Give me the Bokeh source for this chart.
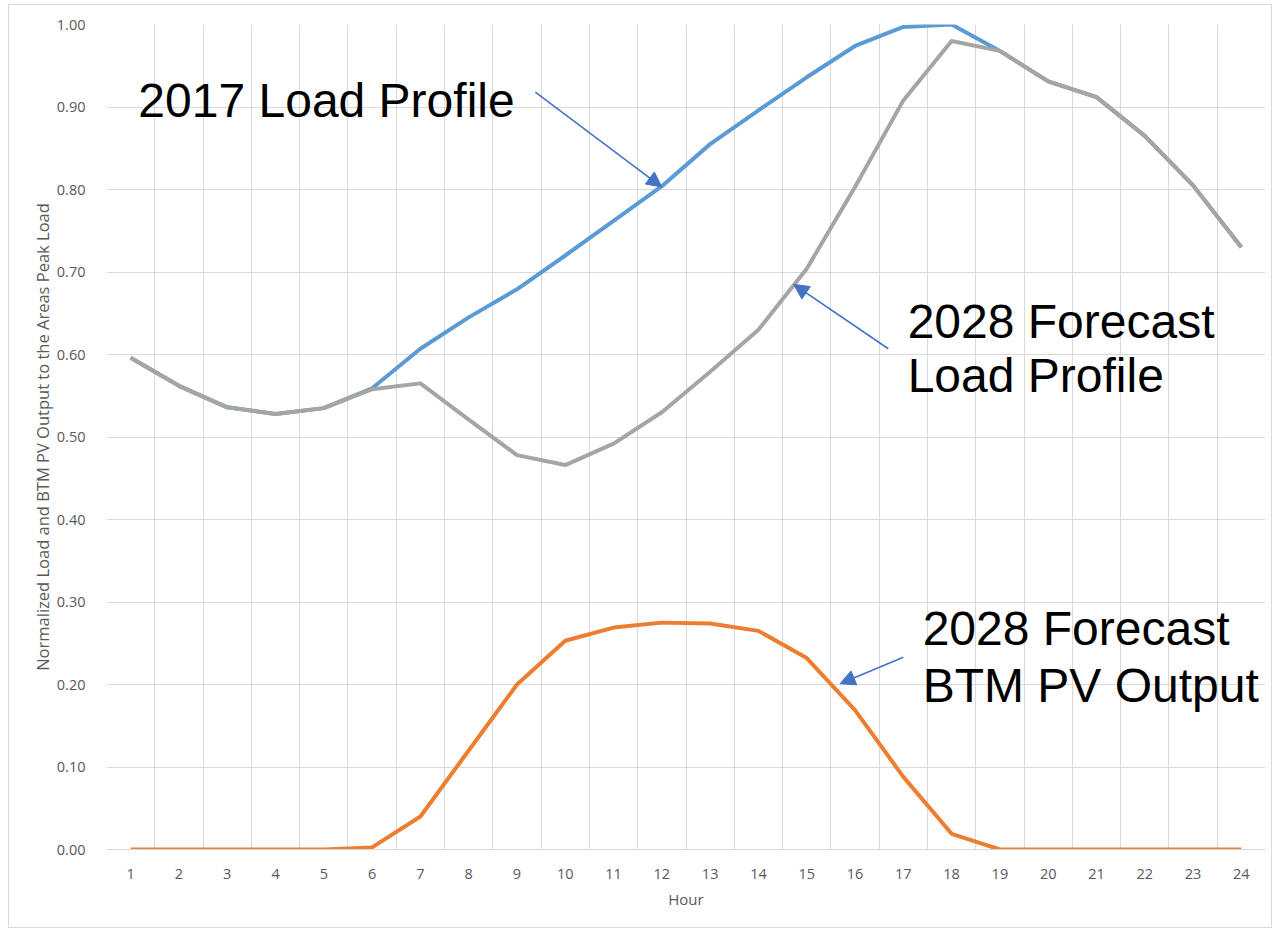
from bokeh.plotting import figure
from bokeh.models import (FixedTicker, NumeralTickFormatter, Label, Arrow, NormalHead,
                          ColumnDataSource, Range1d)
from bokeh.embed import file_html
from bokeh.resources import INLINE

hours = list(range(1, 25))
hour_labels = [str(h) for h in hours]
load_2017 = [0.596, 0.562, 0.536, 0.528, 0.535, 0.559, 0.607, 0.645, 0.679, 0.720, 0.762, 0.804,
             0.855, 0.896, 0.936, 0.974, 0.997, 1.000, 0.968, 0.931, 0.912, 0.865, 0.805, 0.730]
load_2028 = [0.596, 0.562, 0.536, 0.528, 0.535, 0.558, 0.565, 0.521, 0.478, 0.466, 0.492, 0.530,
             0.579, 0.630, 0.704, 0.803, 0.908, 0.980, 0.968, 0.931, 0.912, 0.865, 0.805, 0.730]
pv_2028 = [0.0, 0.0, 0.0, 0.0, 0.0, 0.0025, 0.040, 0.120, 0.200, 0.253, 0.269, 0.275,
           0.274, 0.265, 0.232, 0.169, 0.088, 0.019, 0.0, 0.0, 0.0, 0.0, 0.0, 0.0]
y_ticks = [0.0, 0.1, 0.2, 0.3, 0.4, 0.5, 0.6, 0.7, 0.8, 0.9, 1.0]

src = ColumnDataSource(dict(hour=hours, l17=load_2017, l28=load_2028, pv=pv_2028))

GRID = "#d9d9d9"
TXT = "#595959"
FONT = "Open Sans"

p = figure(width=1264, height=924, output_backend="svg", toolbar_location=None,
           x_range=Range1d(0.5, 24.5), y_range=Range1d(0, 1.0),
           min_border_left=97, min_border_right=8, min_border_top=19, min_border_bottom=80)
p.styles = {"border": "1px solid #d9d9d9", "margin-left": "8px", "margin-top": "4px"}
p.outline_line_color = None
p.background_fill_color = "white"
p.border_fill_color = "white"

# grids
p.xgrid.ticker = FixedTicker(ticks=[h + 0.5 for h in range(0, 25)])
p.ygrid.ticker = FixedTicker(ticks=y_ticks)
p.xgrid.grid_line_color = GRID
p.ygrid.grid_line_color = GRID
p.xgrid.grid_line_width = 1
p.ygrid.grid_line_width = 1

# x axis
xa = p.xaxis[0]
xa.ticker = FixedTicker(ticks=hours)
xa.major_label_overrides = {h: s for h, s in zip(hours, hour_labels)}
xa.axis_line_color = GRID
xa.major_tick_line_color = None
xa.minor_tick_line_color = None
xa.major_label_text_font = FONT
xa.major_label_text_font_size = "14.5px"
xa.major_label_text_color = TXT
xa.major_label_standoff = 13
xa.axis_label = "Hour"
xa.axis_label_text_font = FONT
xa.axis_label_text_font_size = "15px"
xa.axis_label_text_font_style = "normal"
xa.axis_label_text_color = TXT
xa.axis_label_standoff = 7

# y axis
ya = p.yaxis[0]
ya.ticker = FixedTicker(ticks=y_ticks)
ya.formatter = NumeralTickFormatter(format="0.00")
ya.axis_line_color = None
ya.major_tick_line_color = None
ya.minor_tick_line_color = None
ya.major_label_text_font = FONT
ya.major_label_text_font_size = "14.5px"
ya.major_label_text_color = TXT
ya.major_label_standoff = 15
ya.axis_label = "Normalized Load and BTM PV Output to the Areas Peak Load"
ya.axis_label_text_font = FONT
ya.axis_label_text_font_size = "16.5px"
ya.axis_label_text_font_style = "normal"
ya.axis_label_text_color = TXT
ya.axis_label_standoff = 0

# series
p.line("hour", "l17", source=src, line_color="#5B9BD5", line_width=4, line_join="round")
p.line("hour", "l28", source=src, line_color="#A5A5A5", line_width=4, line_join="round")
p.line("hour", "pv", source=src, line_color="#ED7D31", line_width=4, line_join="round")

# annotations
ANN_FONT = "Liberation Sans"
ANN_SIZE = "48px"

def add_label(x, y, text):
    p.add_layout(Label(x=x, y=y, text=text, text_font=ANN_FONT, text_font_size=ANN_SIZE,
                       text_color="black", text_baseline="alphabetic", text_align="left"))

add_label(1.16, 0.908, "2017 Load Profile")
add_label(17.09, 0.640, "2028 Forecast")
add_label(17.09, 0.574, "Load Profile")
add_label(17.40, 0.268, "2028 Forecast")
add_label(17.40, 0.199, "BTM PV Output")

ARROW_C = "#4472C4"
def add_arrow(x0, y0, x1, y1):
    p.add_layout(Arrow(x_start=x0, y_start=y0, x_end=x1, y_end=y1,
                       line_color=ARROW_C, line_width=1.6,
                       end=NormalHead(size=15, fill_color=ARROW_C, line_color=ARROW_C)))

add_arrow(9.38, 0.918, 12.00, 0.803)
add_arrow(16.69, 0.607, 14.73, 0.685)
add_arrow(17.00, 0.233, 15.69, 0.201)

open("out.html", "w").write(file_html(p, INLINE))
